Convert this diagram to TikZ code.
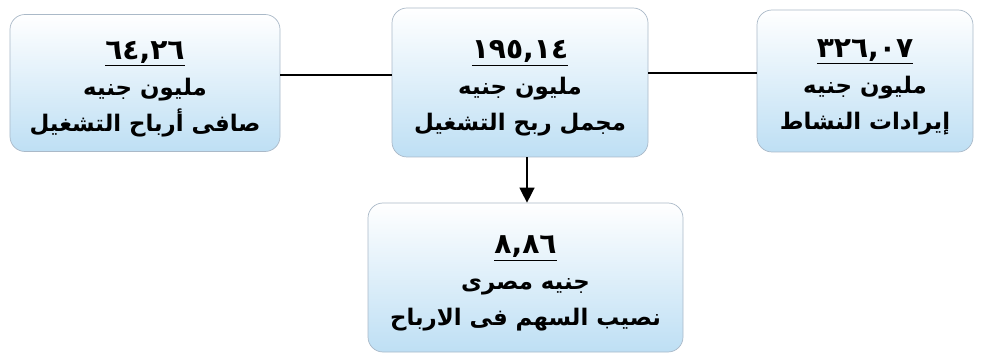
\documentclass[tikz,border=0pt]{standalone}
\usepackage{fontspec}
\usetikzlibrary{arrows.meta}
\TeXXeTstate=1
\newfontfamily\arabicfont[Script=Arabic]{DejaVu Sans}
\definecolor{boxblue}{RGB}{190,223,244}
\definecolor{boxline}{RGB}{170,185,200}
\newcommand\amount[1]{\rule{0pt}{17pt}\underline{\fontsize{16}{20}\selectfont #1}}

\begin{document}
\begin{tikzpicture}

      \useasboundingbox (0,0) rectangle (19.64,-7.08);

      \begin{scope}[every node/.style={rectangle,rounded corners=0.3cm,draw=boxline,
          top color=white,bottom color=boxblue,align=center,
          font=\arabicfont\bfseries\fontsize{13}{20.5}\selectfont}]
        \node[minimum width=5.4cm,minimum height=2.74cm] (profit) at (2.9,-1.66)
          {\amount{٦٤,٢٦}\\ \beginR مليون جنيه\endR\\ \beginR صافى أرباح التشغيل\endR};
        \node[minimum width=5.12cm,minimum height=2.98cm] (gross) at (10.4,-1.65)
          {\amount{١٩٥,١٤}\\ \beginR مليون جنيه\endR\\ \beginR مجمل ربح التشغيل\endR};
        \node[minimum width=4.32cm,minimum height=2.84cm] (revenue) at (17.3,-1.62)
          {\amount{٣٢٦,٠٧}\\ \beginR مليون جنيه\endR\\ \beginR إيرادات النشاط\endR};
        \node[minimum width=6.3cm,minimum height=2.98cm] (share) at (10.51,-5.55)
          {\amount{٨,٨٦}\\ \beginR جنيه مصرى\endR\\ \beginR نصيب السهم فى الارباح\endR};
      \end{scope}

      \begin{scope}[thick]
        \draw ([yshift=0.16cm]profit.east) -- ([yshift=0.15cm]gross.west);
        \draw ([yshift=0.19cm]gross.east) -- ([yshift=0.16cm]revenue.west);
        \draw[-{Triangle[length=0.3cm,width=0.3cm]}] ([xshift=0.14cm]gross.south) -- ([xshift=0.03cm]share.north);
      \end{scope}

    \end{tikzpicture}
\end{document}
